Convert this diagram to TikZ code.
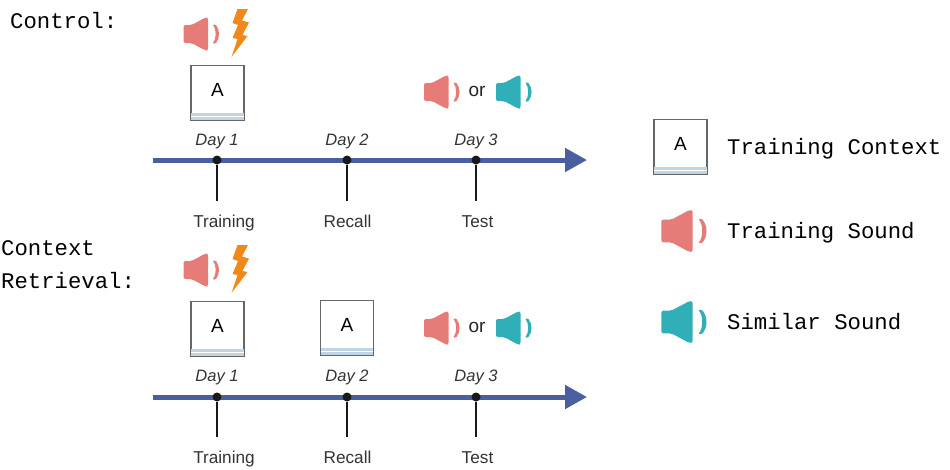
\documentclass[tikz,border=0pt]{standalone}
\usepackage{fontspec}
\setmainfont{Liberation Sans}
\newfontfamily\monof{Liberation Mono}
\usetikzlibrary{arrows.meta}
\definecolor{salmon}{HTML}{E67C78}
\definecolor{tealc}{HTML}{30AFB9}
\definecolor{axisblue}{HTML}{4A5F9F}
\definecolor{boltc}{HTML}{F0881A}
\definecolor{stripe}{HTML}{BFD5E6}
\definecolor{boxline}{HTML}{666666}
\tikzset{
  lab/.style={font=\fontsize{17.2}{18}\selectfont,text=black!80,inner sep=0pt,anchor=base},
  dayl/.style={font=\fontsize{16.5}{18}\selectfont\itshape,text=black!80,inner sep=0pt,anchor=base},
  mono/.style={font=\monof\fontsize{22.3}{26}\selectfont,inner sep=0pt,anchor=base west,align=left},
  dotn/.style={circle,fill=black!90,minimum size=9pt,inner sep=0pt},
  tick/.style={line width=2pt,black!90},
  axisl/.style={line width=5pt,axisblue,-{Triangle[length=22pt,width=23pt]}},
  ltr/.style={font=\fontsize{19}{22}\selectfont,inner sep=0pt},
  orl/.style={font=\fontsize{19}{22}\selectfont,inner sep=0pt,text=black!85},
  pics/spk/.style={code={
    \fill[#1,rounded corners=2pt] (-17,-9) -- (-9,-9) -- (5,-16.5) -- (7.5,-16.5) -- (7.5,16.5) -- (5,16.5) -- (-9,9) -- (-17,9) -- cycle;
    \fill[#1,rounded corners=1pt] (12,-9.5) .. controls (16,-5) and (16,5) .. (12,9.5) -- (15,9.5) .. controls (19.5,4) and (19.5,-4) .. (15,-9.5) -- cycle;
  }},
  pics/bolt/.style={code={
    \fill[boltc] (237.5,9) -- (248,9) -- (242,20.5) -- (249,22.5) -- (242.5,35) -- (247.5,36) -- (231.5,57) -- (237.5,39) -- (232.5,38) -- (238,25) -- (232.5,23) -- cycle;
  }},
}
\newcommand{\ctxbox}[3]{%
  \node[draw=boxline,line width=1.1pt,fill=white,minimum width=53pt,minimum height=55pt,inner sep=0pt] (#3) at (#1,#2) {};
  \fill[stripe] ([xshift=.6pt,yshift=.6pt]#3.south west) rectangle ([xshift=-.6pt,yshift=8pt]#3.south east);
  \draw[white,line width=1.2pt] ([xshift=.6pt,yshift=4.5pt]#3.south west) -- ([xshift=-.6pt,yshift=4.5pt]#3.south east);
  \node[ltr] at ([yshift=3pt]#3.center) {A};
}
\begin{document}
\begin{tikzpicture}[x=1pt,y=-1pt]
\useasboundingbox (0,0) rectangle (950,469);
% headings
\node[mono] (hc) at (10,28) {Control:};
\node[mono] (hr1) at (1,255) {Context};
\node[mono] (hr2) at (1,288) {Retrieval:};
% top row
\pic at (200.5,34) {spk=salmon};
\pic at (0,0) {bolt};
\ctxbox{217.5}{93}{b1}
\pic at (441,92) {spk=salmon};
\node[orl] (or1) at (477,91) {or};
\pic at (513,92) {spk=tealc};
\coordinate (a1s) at (153,160);
\coordinate (a1e) at (587,160);
\draw[axisl] (a1s) -- (a1e);
\foreach \n/\x/\d in {a/217/1,b/347/2,c/476/3}{
  \node[dotn] (t\n) at (\x,160) {};
  \node[dayl] (d\n) at (\x,145) {Day \d};
  \coordinate (e\n) at (\x,201);
  \draw[tick] (t\n) -- (e\n);
}
\node[lab] (la) at (224,227) {Training};
\node[lab] (lb) at (347.5,227) {Recall};
\node[lab] (lc) at (477.5,227) {Test};
% bottom row
\pic at (200.5,270) {spk=salmon};
\pic at (0,236) {bolt};
\ctxbox{217.5}{329}{b2}
\ctxbox{347}{328}{b3}
\pic at (441,328) {spk=salmon};
\node[orl] (or2) at (477,327) {or};
\pic at (513,328) {spk=tealc};
\coordinate (a2s) at (153,397);
\coordinate (a2e) at (587,397);
\draw[axisl] (a2s) -- (a2e);
\foreach \n/\x/\d in {a/217/1,b/347/2,c/476/3}{
  \node[dotn] (u\n) at (\x,397) {};
  \node[dayl] (f\n) at (\x,381) {Day \d};
  \coordinate (g\n) at (\x,437);
  \draw[tick] (u\n) -- (g\n);
}
\node[lab] (ma) at (224,463) {Training};
\node[lab] (mb) at (347.5,463) {Recall};
\node[lab] (mc) at (477.5,463) {Test};
% legend
\ctxbox{680.5}{147}{lg}
\pic[scale=1.27] at (683,231) {spk=salmon};
\pic[scale=1.27] at (683,322) {spk=tealc};
\node[mono] (l1) at (727,154) {Training Context};
\node[mono] (l2) at (727,238) {Training Sound};
\node[mono] (l3) at (727,329) {Similar Sound};
\end{tikzpicture}
\end{document}
